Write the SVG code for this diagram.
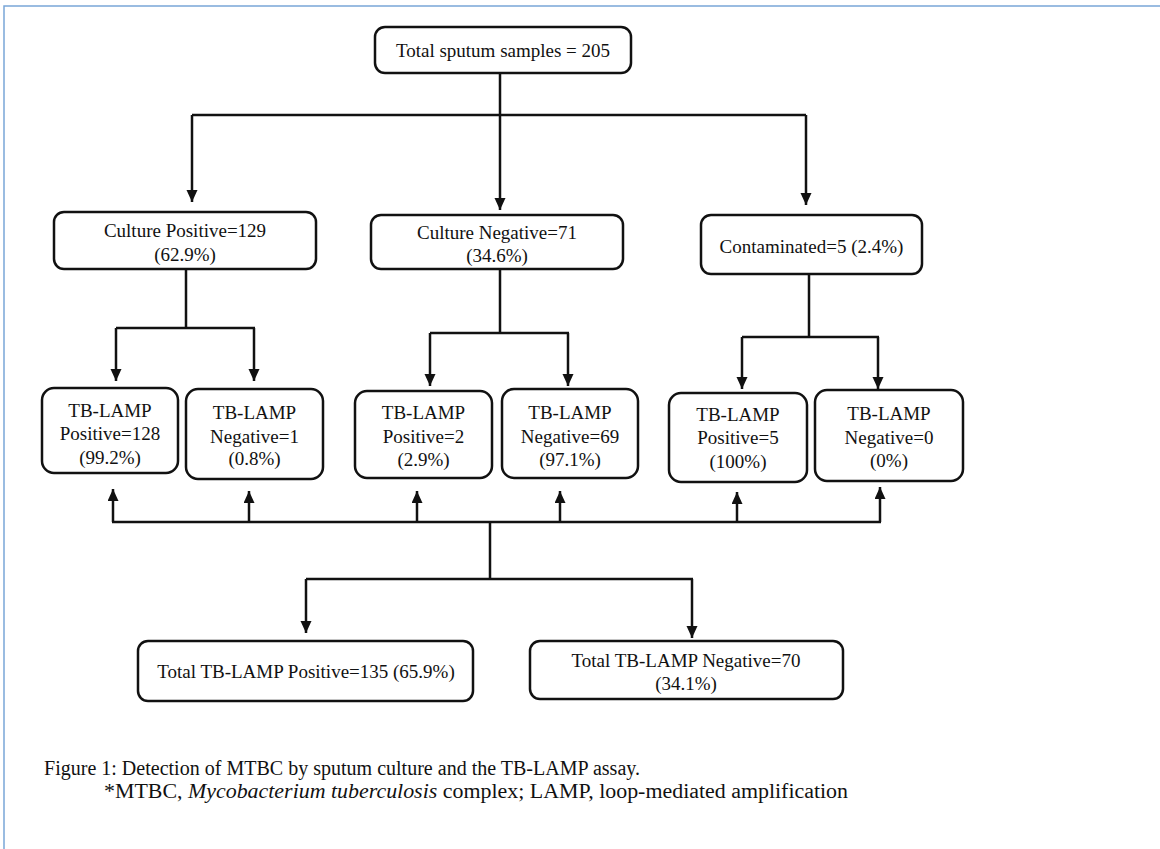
<svg xmlns="http://www.w3.org/2000/svg" width="1160" height="849" viewBox="0 0 1160 849">
<style>
.bx{fill:#fff;stroke:#111;stroke-width:2.5}
.t{font-family:"Liberation Serif","Times New Roman",serif;font-size:19px;fill:#111;text-anchor:middle}
.cap{font-family:"Liberation Serif","Times New Roman",serif;font-size:20px;fill:#111}
.c{stroke:#111;stroke-width:2.5;fill:none}
.a{stroke:#111;stroke-width:2.5;fill:none;marker-end:url(#ah)}
</style>
<defs>
<marker id="ah" markerUnits="userSpaceOnUse" markerWidth="12" markerHeight="12" refX="12" refY="5.5" orient="auto">
<path d="M0,0 L12,5.5 L0,11 Z" fill="#111"/>
</marker>
</defs>
<rect x="0" y="0" width="1160" height="849" fill="#fff"/>
<path d="M4,849 V6 H1160" fill="none" stroke="#7aa6d8" stroke-width="1.5"/>

<g id="connectors">
<path class="c" d="M500,73 V115 M192,115 H806"/>
<line class="a" x1="192" y1="115" x2="192" y2="202"/>
<line class="a" x1="500" y1="115" x2="500" y2="210"/>
<line class="a" x1="806" y1="115" x2="806" y2="205"/>

<path class="c" d="M186,269 V328 M116,328 H255"/>
<line class="a" x1="116" y1="328" x2="116" y2="381"/>
<line class="a" x1="254" y1="328" x2="254" y2="381"/>

<path class="c" d="M500,269 V333 M430,333 H569"/>
<line class="a" x1="430" y1="333" x2="430" y2="386"/>
<line class="a" x1="568" y1="333" x2="568" y2="386"/>

<path class="c" d="M809,274 V337 M742,337 H879"/>
<line class="a" x1="742" y1="337" x2="742" y2="389"/>
<line class="a" x1="878" y1="337" x2="878" y2="389"/>

<path class="c" d="M112,522 H881"/>
<line class="a" x1="113" y1="522" x2="113" y2="489"/>
<line class="a" x1="249" y1="522" x2="249" y2="491"/>
<line class="a" x1="417" y1="522" x2="417" y2="491"/>
<line class="a" x1="560" y1="522" x2="560" y2="491"/>
<line class="a" x1="737" y1="522" x2="737" y2="492"/>
<line class="a" x1="880" y1="522" x2="880" y2="487"/>

<path class="c" d="M490,522 V579 M306,579 H693"/>
<line class="a" x1="306" y1="579" x2="306" y2="633"/>
<line class="a" x1="692" y1="579" x2="692" y2="638"/>
</g>

<g id="total">
<rect class="bx" x="375" y="27" width="256" height="46" rx="10"/>
<text class="t" x="503" y="57">Total sputum samples = 205</text>
</g>

<g id="culture-positive">
<rect class="bx" x="54" y="212" width="262" height="57" rx="10"/>
<text class="t" x="185" y="237">Culture Positive=129</text>
<text class="t" x="185" y="261">(62.9%)</text>
</g>

<g id="culture-negative">
<rect class="bx" x="371" y="215" width="252" height="54" rx="10"/>
<text class="t" x="497" y="239">Culture Negative=71</text>
<text class="t" x="497" y="262">(34.6%)</text>
</g>

<g id="contaminated">
<rect class="bx" x="701" y="215" width="221" height="59" rx="10"/>
<text class="t" x="811.5" y="253">Contaminated=5 (2.4%)</text>
</g>

<g id="lamp-pos-128">
<rect class="bx" x="42" y="388" width="136" height="85" rx="12"/>
<text class="t" x="110" y="417">TB-LAMP</text>
<text class="t" x="110" y="440">Positive=128</text>
<text class="t" x="110" y="464">(99.2%)</text>
</g>

<g id="lamp-neg-1">
<rect class="bx" x="186" y="389" width="137" height="90" rx="12"/>
<text class="t" x="254.5" y="419">TB-LAMP</text>
<text class="t" x="254.5" y="443">Negative=1</text>
<text class="t" x="254.5" y="465">(0.8%)</text>
</g>

<g id="lamp-pos-2">
<rect class="bx" x="355" y="391" width="137" height="87" rx="12"/>
<text class="t" x="423.5" y="419">TB-LAMP</text>
<text class="t" x="423.5" y="443">Positive=2</text>
<text class="t" x="423.5" y="466">(2.9%)</text>
</g>

<g id="lamp-neg-69">
<rect class="bx" x="502" y="389" width="136" height="89" rx="12"/>
<text class="t" x="570" y="419">TB-LAMP</text>
<text class="t" x="570" y="443">Negative=69</text>
<text class="t" x="570" y="466">(97.1%)</text>
</g>

<g id="lamp-pos-5">
<rect class="bx" x="669" y="393" width="138" height="89" rx="12"/>
<text class="t" x="738" y="421">TB-LAMP</text>
<text class="t" x="738" y="444">Positive=5</text>
<text class="t" x="738" y="468">(100%)</text>
</g>

<g id="lamp-neg-0">
<rect class="bx" x="815" y="390" width="148" height="91" rx="12"/>
<text class="t" x="889" y="420">TB-LAMP</text>
<text class="t" x="889" y="444">Negative=0</text>
<text class="t" x="889" y="467">(0%)</text>
</g>

<g id="total-pos">
<rect class="bx" x="138" y="641" width="335" height="60" rx="10"/>
<text class="t" x="306" y="678">Total TB-LAMP Positive=135 (65.9%)</text>
</g>

<g id="total-neg">
<rect class="bx" x="530" y="641" width="313" height="58" rx="10"/>
<text class="t" x="686" y="667">Total TB-LAMP Negative=70</text>
<text class="t" x="686" y="690">(34.1%)</text>
</g>

<g id="caption">
<text class="cap" x="44" y="775" textLength="596" lengthAdjust="spacingAndGlyphs">Figure 1: Detection of MTBC by sputum culture and the TB-LAMP assay.</text>
<text class="cap" x="104" y="798" textLength="744" lengthAdjust="spacingAndGlyphs">*MTBC, <tspan font-style="italic">Mycobacterium tuberculosis</tspan> complex; LAMP, loop-mediated amplification</text>
</g>
</svg>
